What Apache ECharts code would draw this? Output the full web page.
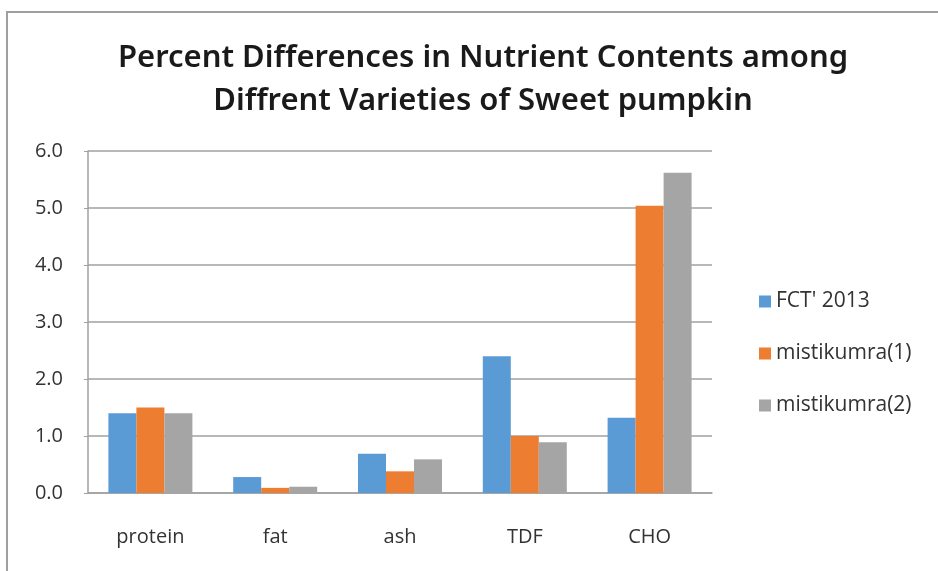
<!DOCTYPE html>
<html>
<head>
<meta charset="utf-8">
<script src="https://cdn.jsdelivr.net/npm/echarts@6/dist/echarts.min.js"></script>
<style>
html,body{margin:0;padding:0;background:#fff;}
.frame{position:absolute;left:6px;top:11px;width:940px;height:570px;border-top:2px solid #a0a0a0;border-left:2px solid #a0a0a0;}
.charts{position:absolute;left:0;top:0;width:938px;height:571px;}
</style>
</head>
<body>
<div class="frame"></div>
<div class="charts" id="chart"></div>
<script>
var categories = ['protein', 'fat', 'ash', 'TDF', 'CHO'];
var fct2013 = [1.4, 0.28, 0.69, 2.4, 1.32];
var mistikumra1 = [1.5, 0.09, 0.38, 1.0, 5.04];
var mistikumra2 = [1.4, 0.11, 0.59, 0.89, 5.62];

var chart = echarts.init(document.getElementById('chart'));
var option = {
    animation: false,
    title: {
        text: 'Percent Differences in Nutrient Contents among\nDiffrent Varieties of Sweet pumpkin',
        left: 478,
        textAlign: 'center',
        top: 32,
        textStyle: {
            fontFamily: 'Noto Sans',
            fontSize: 31,
            fontWeight: 600,
            color: '#1a1a1a',
            lineHeight: 43
        }
    },
    legend: {
        orient: 'vertical',
        left: 754,
        top: 286,
        itemGap: 31,
        itemWidth: 12,
        itemHeight: 12,
        icon: 'rect',
        textStyle: { fontFamily: 'Open Sans', fontSize: 21, color: '#333' }
    },
    grid: { left: 88, right: 226, top: 151, bottom: 78 },
    xAxis: {
        type: 'category',
        data: categories,
        axisTick: { show: false },
        axisLine: { lineStyle: { color: '#a0a0a0', width: 1.5 } },
        axisLabel: { fontFamily: 'Open Sans', fontSize: 20, color: '#333', margin: 34 }
    },
    yAxis: {
        type: 'value',
        min: 0,
        max: 6,
        interval: 1,
        axisLine: { show: true, lineStyle: { color: '#a0a0a0', width: 1.5 } },
        axisTick: { show: true, length: 4, lineStyle: { color: '#a0a0a0' } },
        splitLine: { lineStyle: { color: '#a0a0a0', width: 1.5 } },
        axisLabel: {
            fontFamily: 'Open Sans', fontSize: 20, color: '#333', margin: 25,
            formatter: function (v) { return v.toFixed(1); }
        }
    },
    series: [
        { name: "FCT' 2013", type: 'bar', data: fct2013, barWidth: 28, barGap: '0%', itemStyle: { color: '#5b9bd5' } },
        { name: 'mistikumra(1)', type: 'bar', data: mistikumra1, barWidth: 28, barGap: '0%', itemStyle: { color: '#ed7d31' } },
        { name: 'mistikumra(2)', type: 'bar', data: mistikumra2, barWidth: 28, barGap: '0%', itemStyle: { color: '#a5a5a5' } }
    ]
};
chart.setOption(option);
</script>
</body>
</html>
